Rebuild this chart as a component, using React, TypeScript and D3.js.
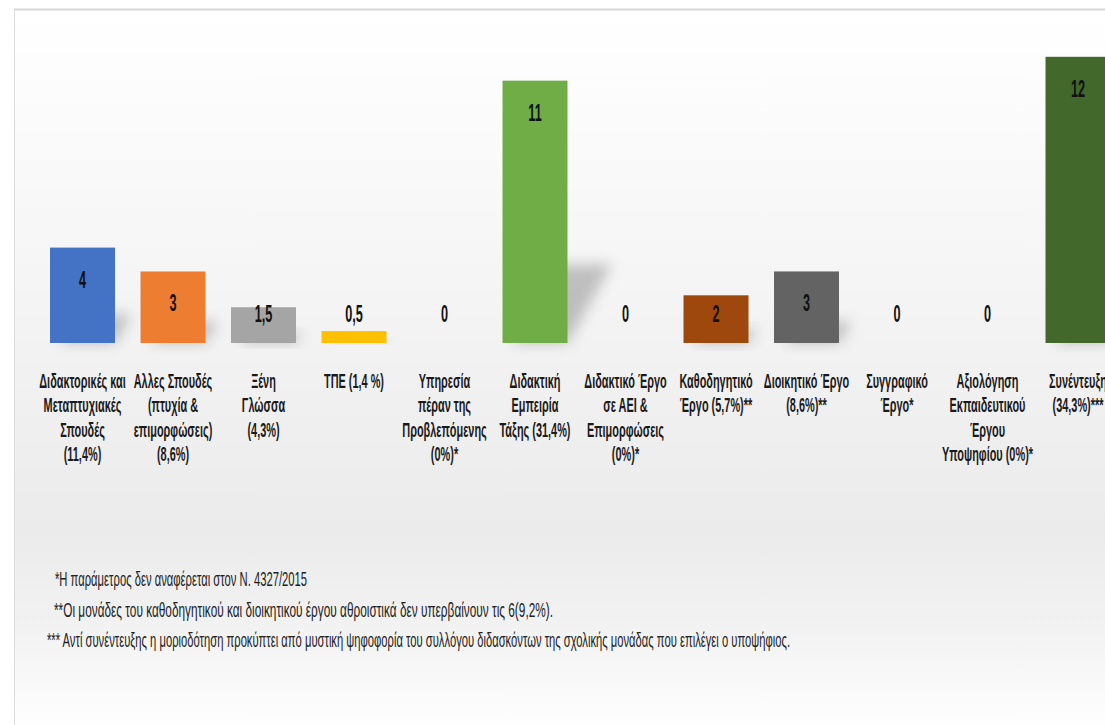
import * as d3 from "d3";

const W = 1105;
const H = 725;

const labelLines: string[][] = [
  ["Διδακτορικές και", "Μεταπτυχιακές", "Σπουδές", "(11,4%)"],
  ["Αλλες Σπουδές", "(πτυχία &", "επιμορφώσεις)", "(8,6%)"],
  ["Ξένη", "Γλώσσα", "(4,3%)"],
  ["ΤΠΕ (1,4 %)"],
  ["Υπηρεσία", "πέραν της", "Προβλεπόμενης", "(0%)*"],
  ["Διδακτική", "Εμπειρία", "Τάξης (31,4%)"],
  ["Διδακτικό Έργο", "σε ΑΕΙ &", "Επιμορφώσεις", "(0%)*"],
  ["Καθοδηγητικό", "Έργο (5,7%)**"],
  ["Διοικητικό Έργο", "(8,6%)**"],
  ["Συγγραφικό", "Έργο*"],
  ["Αξιολόγηση", "Εκπαιδευτικού", "Έργου", "Υποψηφίου (0%)*"],
  ["Συνέντευξη", "(34,3%)***"],
];
const values = [4, 3, 1.5, 0.5, 0, 11, 0, 2, 3, 0, 0, 12];
const colors = [
  "#4472C4", "#ED7D31", "#A5A5A5", "#FFC000", "#5B9BD5", "#70AD47",
  "#264478", "#9E480E", "#636363", "#997300", "#255E91", "#43682B",
];
const footnotes = [
  "*Η παράμετρος δεν αναφέρεται στον Ν. 4327/2015",
  "**Οι μονάδες του καθοδηγητικού και διοικητικού έργου αθροιστικά δεν υπερβαίνουν τις 6(9,2%).",
  "*** Αντί συνέντευξης η μοριοδότηση προκύπτει από μυστική ψηφοφορία  του συλλόγου διδασκόντων της σχολικής μονάδας που επιλέγει ο υποψήφιος.",
];
const footX = [55, 54, 47];
const footW = [252, 499, 743];

const FONT = "'Liberation Sans', Arial, sans-serif";
const SX = 0.52;

export default function App() {
  const ids = labelLines.map((_, i) => String(i));
  const x = d3
    .scaleBand<string>()
    .domain(ids)
    .range([37.25, 37.25 + 90.5 * ids.length])
    .paddingInner(0.282)
    .paddingOuter(0.141);
  const y = d3.scaleLinear().domain([0, 12]).range([343, 343 - 12 * 23.85]);
  const base = y(0);
  const fmt = (v: number) => String(v).replace(".", ",");

  return (
    <svg
      width={W}
      height={H}
      style={{ position: "absolute", left: 0, top: 0, display: "block" }}
    >
      <defs>
        <linearGradient id="bg" x1="0" y1="0" x2="0" y2="1">
          <stop offset="0" stopColor="#ffffff" />
          <stop offset="0.3" stopColor="#f7f7f7" />
          <stop offset="0.72" stopColor="#ebebeb" />
          <stop offset="0.85" stopColor="#f2f2f2" />
          <stop offset="1" stopColor="#ffffff" />
        </linearGradient>
        <filter id="blur" x="-50%" y="-50%" width="200%" height="200%">
          <feGaussianBlur stdDeviation="7" />
        </filter>
      </defs>
      <rect width={W} height={H} fill="#fff" />
      <rect x={14} y={9} width={W} height={H} fill="url(#bg)" />
      <line x1={14} x2={W} y1={9.5} y2={9.5} stroke="#d6d6d6" strokeWidth={2} />
      <line x1={14.5} x2={14.5} y1={9} y2={H} stroke="#dcdcdc" strokeWidth={1} />

      {values.map((v, i) => {
        if (v <= 0) return null;
        const x0 = x(String(i))!;
        const x1 = x0 + x.bandwidth();
        const h = base - y(v);
        const sh = Math.min(h * 0.3, 80);
        const dx = Math.min(h * 0.17, 45);
        return (
          <path
            key={`s${i}`}
            d={`M${x0 + 10},${base} L${x1},${base} L${x1 + dx},${base - sh} L${x0 + 10 + dx},${base - sh} Z`}
            fill="rgba(0,0,0,0.22)"
            filter="url(#blur)"
          />
        );
      })}

      {values.map((v, i) =>
        v > 0 ? (
          <rect
            key={`b${i}`}
            x={x(String(i))}
            y={y(v)}
            width={x.bandwidth()}
            height={base - y(v)}
            fill={colors[i]}
          />
        ) : null
      )}

      {values.map((v, i) => {
        const cx = x(String(i))! + x.bandwidth() / 2;
        const ty = Math.min(y(v) + 40, 322);
        return (
          <g key={`v${i}`} transform={`translate(${cx},${ty}) scale(0.55,1)`}>
            <text
              textAnchor="middle"
              fontFamily={FONT}
              fontWeight="bold"
              fontSize={23}
              fill="#111"
            >
              {fmt(v)}
            </text>
          </g>
        );
      })}

      {labelLines.map((lines, i) => {
        const cx = x(String(i))! + x.bandwidth() / 2;
        return (
          <g key={`l${i}`} transform={`translate(${cx},0) scale(${SX},1)`}>
            {lines.map((t, j) => (
              <text
                key={j}
                x={0}
                y={388 + j * 24.3}
                textAnchor="middle"
                fontFamily={FONT}
                fontWeight="bold"
                fontSize={21}
                fill="#1a1a1a"
              >
                {t}
              </text>
            ))}
          </g>
        );
      })}

      {footnotes.map((t, i) => (
        <text
          key={`f${i}`}
          x={footX[i]}
          y={586 + i * 30.5}
          textLength={footW[i]}
          lengthAdjust="spacingAndGlyphs"
          fontFamily={FONT}
          fontSize={21}
          fill="#222"
        >
          {t}
        </text>
      ))}
    </svg>
  );
}
